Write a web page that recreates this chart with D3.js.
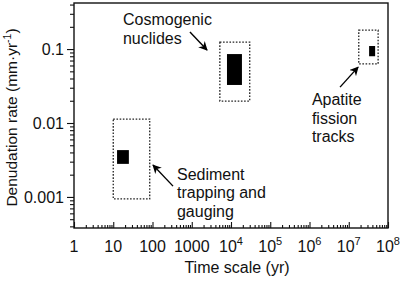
<!DOCTYPE html>
<html>
<head>
<meta charset="utf-8">
<script src="https://cdn.jsdelivr.net/npm/d3@7"></script>
<style>
  body { margin: 0; background: #fff; }
  svg { display: block; font-family: "Liberation Sans", Arial, sans-serif; }
</style>
</head>
<body>
<div id="chart"></div>
<script>
// methods (ranges in yr and mm/yr)
const methods = ['Sediment trapping and gauging', 'Cosmogenic nuclides', 'Apatite fission tracks'];
const outerTime = [[10, 85], [5200, 30000], [1.8e7, 5.6e7]];
const outerRate = [[0.00094, 0.0113], [0.0198, 0.124], [0.063, 0.18]];
const innerTime = [[12.5, 25], [7900, 19000], [3.3e7, 4.7e7]];
const innerRate = [[0.0028, 0.0043], [0.0327, 0.0856], [0.08, 0.11]];

// annotations: text lines, anchor (time, rate), arrow from/to (time, rate)
const labelLines = [['Sediment', 'trapping and', 'gauging'], ['Cosmogenic', 'nuclides'], ['Apatite', 'fission', 'tracks']];
const labelAt = [[420, 0.0017], [17.7, 0.21], [1.15e6, 0.0175]];
const arrowFrom = [[333, 0.0014], [900, 0.17], [6e6, 0.0306]];
const arrowTo = [[103, 0.0027], [2450, 0.097], [1.73e7, 0.057]];

const xTicks = [1, 10, 100, 1000, 1e4, 1e5, 1e6, 1e7, 1e8];
const xTickLabels = ['1', '10', '100', '1000', '10^4', '10^5', '10^6', '10^7', '10^8'];
const yTicks = [0.001, 0.01, 0.1];
const yTickLabels = ['0.001', '0.01', '0.1'];

const W = 402, H = 282;
const margin = { top: 3, right: 14, bottom: 54, left: 74 };

const x = d3.scaleLog().domain([1, 1e8]).range([margin.left, W - margin.right]);
const y = d3.scaleLog().domain([0.00038, 0.42]).range([H - margin.bottom, margin.top]);

const svg = d3.select('#chart').append('svg')
  .attr('width', W)
  .attr('height', H);

svg.append('defs').append('marker')
  .attr('id', 'head')
  .attr('viewBox', '0 0 10 10')
  .attr('refX', 9)
  .attr('refY', 5)
  .attr('markerWidth', 9)
  .attr('markerHeight', 9)
  .attr('markerUnits', 'userSpaceOnUse')
  .attr('orient', 'auto')
  .append('path')
  .attr('d', 'M0,0L10,5L0,10L3,5Z')
  .attr('fill', '#000');

// minor ticks
const xMinor = [];
for (let e = 0; e < 8; e++) for (let k = 2; k < 10; k++) xMinor.push(k * 10 ** e);
const yMinor = [];
for (let e = -4; e < 0; e++) for (let k = 2; k < 10; k++) {
  const v = k * 10 ** e;
  if (v >= y.domain()[0] && v <= y.domain()[1]) yMinor.push(v);
}

const bottom = H - margin.bottom;

svg.append('g')
  .attr('transform', `translate(0,${bottom})`)
  .call(d3.axisBottom(x).tickValues(xMinor).tickSize(-3).tickFormat(''))
  .call(g => g.select('.domain').remove());
svg.append('g')
  .attr('transform', `translate(0,${bottom})`)
  .call(d3.axisBottom(x).tickValues(xTicks).tickSize(-6).tickFormat(''))
  .call(g => g.select('.domain').remove());

svg.append('g')
  .attr('transform', `translate(${margin.left},0)`)
  .call(d3.axisLeft(y).tickValues(yMinor).tickSize(4).tickFormat(''))
  .call(g => g.select('.domain').remove());
svg.append('g')
  .attr('transform', `translate(${margin.left},0)`)
  .call(d3.axisLeft(y).tickValues(yTicks).tickSize(7).tickPadding(3)
    .tickFormat((d, i) => yTickLabels[i]))
  .call(g => g.select('.domain').remove())
  .call(g => g.selectAll('text').attr('font-size', 16).attr('fill', '#111')
    .attr('font-family', '"Liberation Sans", Arial, sans-serif'));

svg.selectAll('.tick line').attr('stroke', '#111').attr('stroke-width', 1.1);

// frame
svg.append('rect')
  .attr('x', x(1))
  .attr('y', y(y.domain()[1]))
  .attr('width', x(1e8) - x(1))
  .attr('height', y(y.domain()[0]) - y(y.domain()[1]))
  .attr('fill', 'none')
  .attr('stroke', '#111')
  .attr('stroke-width', 1.4);

// x tick labels with superscripts
const xl = svg.append('g')
  .attr('font-size', 16)
  .attr('fill', '#111')
  .attr('text-anchor', 'middle');
xTickLabels.forEach((lab, i) => {
  const t = xl.append('text').attr('x', x(xTicks[i])).attr('y', bottom + 24);
  const parts = lab.split('^');
  t.append('tspan').text(parts[0]);
  if (parts[1]) {
    t.append('tspan').attr('font-size', 11).attr('dy', -7).text(parts[1]);
  }
});

// axis titles
svg.append('text')
  .attr('x', 237)
  .attr('y', H - 9)
  .attr('text-anchor', 'middle')
  .attr('font-size', 16)
  .attr('fill', '#111')
  .text('Time scale (yr)');

const yt = svg.append('text')
  .attr('transform', `translate(17,${(y.range()[0] + y.range()[1]) / 2 + 2}) rotate(-90)`)
  .attr('text-anchor', 'middle')
  .attr('font-size', 15.5)
  .attr('fill', '#111');
yt.append('tspan').text('Denudation rate (mm\u00b7yr');
yt.append('tspan').attr('font-size', 10.5).attr('dy', -6).text('-1');
yt.append('tspan').attr('dy', 6).text(')');

// dotted outer ranges
svg.append('g').selectAll('rect')
  .data(methods)
  .join('rect')
  .attr('x', (d, i) => x(outerTime[i][0]))
  .attr('y', (d, i) => y(outerRate[i][1]))
  .attr('width', (d, i) => x(outerTime[i][1]) - x(outerTime[i][0]))
  .attr('height', (d, i) => y(outerRate[i][0]) - y(outerRate[i][1]))
  .attr('fill', 'none')
  .attr('stroke', '#222')
  .attr('stroke-width', 1.3)
  .attr('stroke-dasharray', '1.6,1.6');

// filled typical ranges
svg.append('g').selectAll('rect')
  .data(methods)
  .join('rect')
  .attr('x', (d, i) => x(innerTime[i][0]))
  .attr('y', (d, i) => y(innerRate[i][1]))
  .attr('width', (d, i) => x(innerTime[i][1]) - x(innerTime[i][0]))
  .attr('height', (d, i) => y(innerRate[i][0]) - y(innerRate[i][1]))
  .attr('fill', '#000');

// arrows
svg.append('g').selectAll('line')
  .data(methods)
  .join('line')
  .attr('x1', (d, i) => x(arrowFrom[i][0]))
  .attr('y1', (d, i) => y(arrowFrom[i][1]))
  .attr('x2', (d, i) => x(arrowTo[i][0]))
  .attr('y2', (d, i) => y(arrowTo[i][1]))
  .attr('stroke', '#000')
  .attr('stroke-width', 1.4)
  .attr('marker-end', 'url(#head)');

// labels
labelLines.forEach((lines, i) => {
  const t = svg.append('text')
    .attr('font-size', 16)
    .attr('fill', '#111');
  lines.forEach((ln, j) => {
    t.append('tspan')
      .attr('x', x(labelAt[i][0]))
      .attr('y', y(labelAt[i][1]) + j * 18.5)
      .text(ln);
  });
});
</script>
</body>
</html>
